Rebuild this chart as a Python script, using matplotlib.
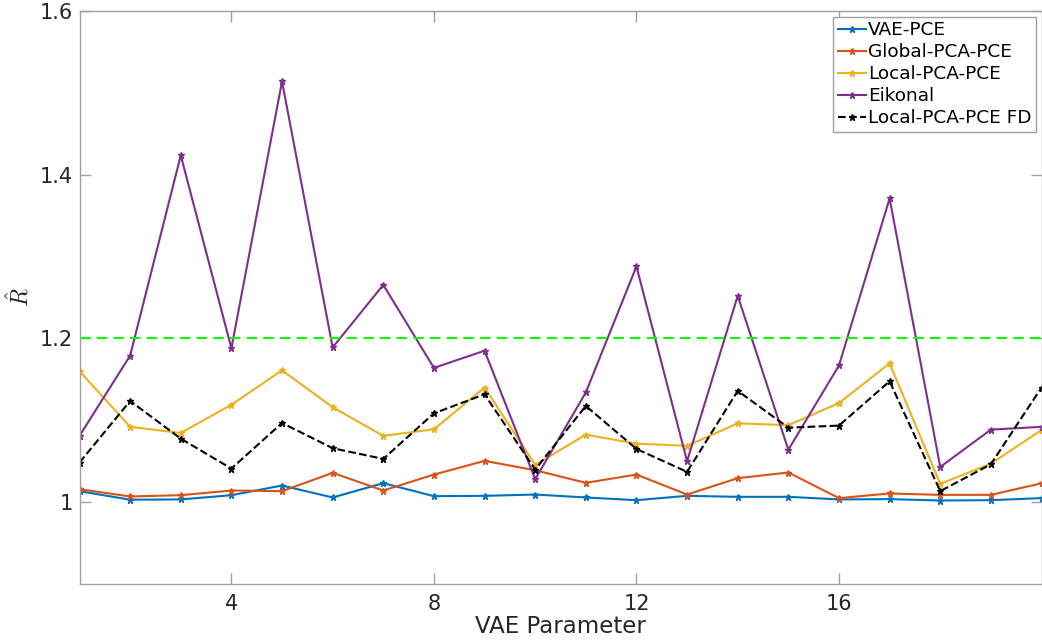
import matplotlib
matplotlib.use("Agg")
import matplotlib.pyplot as plt

plt.rcParams["mathtext.fontset"] = "cm"

vae_param = list(range(1, 21))

vae_pce = [1.0134, 1.0030, 1.0033, 1.0085, 1.0203, 1.0057, 1.0232, 1.0073, 1.0077, 1.0093,
           1.0057, 1.0024, 1.0077, 1.0065, 1.0065, 1.0033, 1.0037, 1.0020, 1.0024, 1.0049]
global_pca_pce = [1.0159, 1.0069, 1.0085, 1.0142, 1.0134, 1.0358, 1.0142, 1.0337, 1.0504, 1.0390,
                  1.0236, 1.0337, 1.0093, 1.0293, 1.0362, 1.0049, 1.0106, 1.0089, 1.0089, 1.0230]
local_pca_pce = [1.160, 1.092, 1.0845, 1.119, 1.161, 1.116, 1.081, 1.089, 1.140, 1.0455,
                 1.0825, 1.0715, 1.0687, 1.0963, 1.094, 1.121, 1.1695, 1.0224, 1.047, 1.088]
eikonal = [1.081, 1.179, 1.4236, 1.188, 1.514, 1.189, 1.2655, 1.164, 1.185, 1.028,
           1.134, 1.288, 1.050, 1.252, 1.064, 1.167, 1.371, 1.043, 1.0886, 1.092]
local_pca_pce_fd = [1.0484, 1.1236, 1.0776, 1.041, 1.0967, 1.0659, 1.0528, 1.1085, 1.1317, 1.0398,
                    1.1175, 1.065, 1.037, 1.136, 1.091, 1.0935, 1.1476, 1.0134, 1.0463, 1.140]
threshold = 1.2

series = [
    ("VAE-PCE", vae_pce, "#0072BD", "-"),
    ("Global-PCA-PCE", global_pca_pce, "#D95319", "-"),
    ("Local-PCA-PCE", local_pca_pce, "#EDB120", "-"),
    ("Eikonal", eikonal, "#7E2F8E", "-"),
    ("Local-PCA-PCE FD", local_pca_pce_fd, "#000000", "--"),
]

text_color = "#262626"
spine_color = "#a0a0a0"

fig = plt.figure(figsize=(10.42, 6.42), dpi=100)
ax = fig.add_axes([79.5 / 1042, 58 / 642, 962 / 1042, 573 / 642])

for label, vals, color, ls in series:
    ax.plot(vae_param, vals, color=color, linestyle=ls, linewidth=1.5,
            marker="*", markersize=4.5, label=label)

ax.axhline(threshold, color="#00ff00", linestyle="--", linewidth=1.5, dashes=(5, 3))

ax.set_xlim(1, 20)
ax.set_ylim(0.9, 1.6)
ax.set_xticks([4, 8, 12, 16])
ax.set_yticks([1.0, 1.2, 1.4, 1.6])
ax.set_yticklabels(["1", "1.2", "1.4", "1.6"])

ax.tick_params(direction="in", length=8, width=1, colors=spine_color,
               labelcolor=text_color, labelsize=15, top=True, right=True)
ax.tick_params(axis="x", pad=7)
ax.tick_params(axis="y", pad=5)
for s in ax.spines.values():
    s.set_color(spine_color)
    s.set_linewidth(1)

ax.set_xlabel("VAE Parameter", fontsize=16.5, color=text_color, labelpad=1)
ax.set_ylabel(r"$\hat{R}$", fontsize=17, color=text_color, labelpad=4)

leg = ax.legend(loc="upper right", fontsize=13.3, frameon=True, fancybox=False,
                framealpha=1, edgecolor=spine_color, handlelength=1.5,
                handletextpad=0.12, borderpad=0.25, labelspacing=0.22,
                borderaxespad=0.3)
leg.get_frame().set_linewidth(1)

fig.savefig("out.png", dpi=100)
